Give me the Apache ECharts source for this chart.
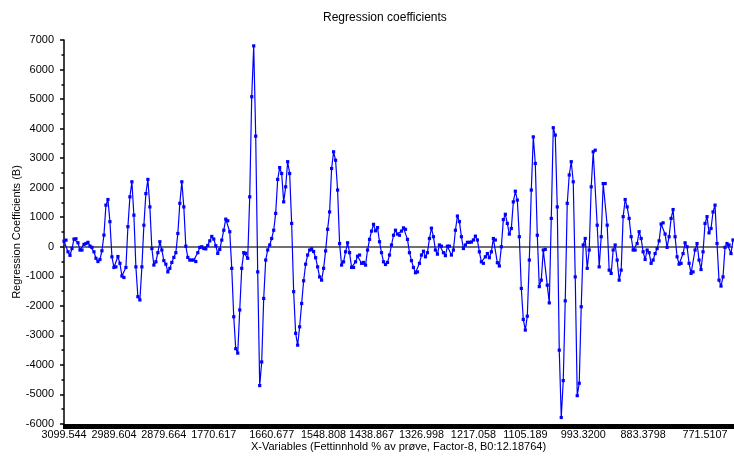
<!DOCTYPE html>
<html>
<head>
<meta charset="utf-8">
<title>Regression coefficients</title>
<script src="https://cdn.jsdelivr.net/npm/echarts@6/dist/echarts.min.js"></script>
<style>
  html, body { margin: 0; padding: 0; background: #ffffff; }
  #chart { width: 734px; height: 457px; }
</style>
</head>
<body>
<div id="chart"></div>
<script>
// Wavenumber labels shown along the x axis and the variable index each one sits on
const tickLabels = ['3099.544', '2989.604', '2879.664', '1770.617', '1660.677', '1548.808',
  '1438.867', '1326.998', '1217.058', '1105.189', '993.3200', '883.3798', '771.5107'];
const tickIndex = [0, 25, 50, 75, 104, 130, 154, 179, 205, 231, 260, 290, 321];

// Regression coefficients (B) per X-variable
const coefficients = [
  190, 225, -170, -290, -60, 260, 270, 135, -110, -110,
  80, 110, 150, 25, -20, -170, -390, -500, -430, -135,
  395, 1410, 1600, 850, -340, -700, -680, -330, -560, -990,
  -1040, -700, 680, 1690, 2200, 1070, -680, -1690, -1800, -680,
  730, 1800, 2280, 1350, -60, -620, -510, -200, 170, -110,
  -470, -590, -850, -730, -530, -360, -200, 450, 1470, 2200,
  1350, 20, -360, -450, -450, -450, -500, -200, -20, 0,
  -60, -70, 45, 200, 350, 260, 35, -225, -90, 225,
  560, 935, 880, 510, -730, -2370, -3450, -3600, -2140, -730,
  -200, -220, -390, 1690, 5080, 6800, 3745, -850, -4700, -3900,
  -1750, -450, -110, 60, 280, 560, 1130, 2280, 2680, 2480,
  1520, 2030, 2880, 2480, 790, -1520, -2930, -3330, -2710, -1920,
  -1150, -590, -280, -110, -70, -160, -370, -680, -1020, -1130,
  -730, -140, 590, 1180, 2650, 3215, 2930, 1920, 110, -620,
  -510, -170, 135, -200, -700, -700, -510, -320, -280, -560,
  -530, -620, -110, 250, 530, 760, 540, 650, 170, -200,
  -510, -600, -530, -280, 60, 390, 560, 430, 390, 530,
  640, 590, 250, -200, -470, -700, -880, -850, -560, -280,
  -150, -340, -200, 280, 630, 340, -110, -250, 60, 20,
  -200, -300, 20, 20, -280, -110, 560, 1040, 850, 340,
  -60, 60, 150, 150, 160, 230, 360, 230, -170, -510,
  -560, -340, -230, -370, -170, 280, 230, -540, -650, 0,
  920, 1100, 790, 430, 620, 1520, 1880, 1580, 340, -1410,
  -2460, -2820, -2350, -450, 1920, 3720, 2820, 390, -1350, -1130,
  -110, -90, -1300, -1900, 960, 4030, 3780, 1350, -3500, -5780,
  -4530, -1830, 1470, 2430, 2880, 2200, -1020, -5040, -4620, -2030,
  60, 280, -730, -110, 2030, 3215, 3270, 730, -680, 340,
  2140, 2140, 730, -790, -900, -110, 60, -450, -1130, -790,
  1020, 1600, 1350, 960, 340, -110, -110, 110, 510, 280,
  -170, -430, -110, -200, -560, -450, -230, -60, 200, 770,
  810, 430, -20, 340, 960, 1260, 340, -340, -590, -560,
  -230, 135, 0, -560, -900, -850, -110, 110, -450, -770,
  -170, 790, 1020, 470, 620, 1180, 1410, 110, -1130, -1330,
  -1020, -20, 110, 60, -230, 230
];

const variableIndex = coefficients.map(function (_, i) { return i; });

const FONT = '"Liberation Sans", Arial, sans-serif';

const chart = echarts.init(document.getElementById('chart'), null, { renderer: 'canvas' });

chart.setOption({
  animation: false,
  backgroundColor: '#ffffff',
  title: {
    text: 'Regression coefficients',
    left: 318,
    top: 7,
    textStyle: { fontFamily: FONT, fontSize: 12, fontWeight: 'normal', color: '#000000' }
  },
  grid: { left: 64, right: 1, top: 40, bottom: 33, containLabel: false, outerBoundsMode: 'none' },
  xAxis: {
    type: 'category',
    data: variableIndex,
    boundaryGap: false,
    name: 'X-Variables (Fettinnhold % av prøve, Factor-8, B0:12.18764)',
    nameLocation: 'middle',
    nameGap: 17,
    nameMoveOverlap: false,
    nameTextStyle: { fontFamily: FONT, fontSize: 11, color: '#000000' },
    axisLine: { onZero: false, lineStyle: { color: '#000000', width: 1 } },
    axisTick: {
      show: true,
      interval: 0,
      length: 5,
      lineStyle: { color: '#000000', width: 2 }
    },
    axisLabel: {
      interval: function (index) { return tickIndex.indexOf(index) !== -1; },
      formatter: function (value, index) {
        const k = tickIndex.indexOf(index);
        return k === -1 ? '' : tickLabels[k];
      },
      margin: 6,
      fontFamily: FONT,
      fontSize: 10.8,
      color: '#000000',
      showMinLabel: true,
      showMaxLabel: true,
      hideOverlap: false
    },
    splitLine: { show: false }
  },
  yAxis: {
    type: 'value',
    min: -6000,
    max: 7000,
    interval: 1000,
    name: 'Regression Coefficients (B)',
    nameLocation: 'middle',
    nameGap: 42,
    nameMoveOverlap: false,
    nameTextStyle: { fontFamily: FONT, fontSize: 11, color: '#000000' },
    axisLine: { show: true, lineStyle: { color: '#000000', width: 1.5 } },
    axisTick: { show: true, length: 4, lineStyle: { color: '#000000', width: 1.5 } },
    minorTick: { show: true, splitNumber: 2, length: 2.5, lineStyle: { color: '#000000', width: 1.5 } },
    axisLabel: {
      margin: 10,
      fontFamily: FONT,
      fontSize: 11,
      color: '#000000',
      formatter: function (v) { return String(v); }
    },
    splitLine: { show: false }
  },
  series: [{
    type: 'line',
    data: coefficients,
    symbol: 'rect',
    symbolSize: 3.2,
    showAllSymbol: true,
    lineStyle: { color: '#0000ff', width: 1.2 },
    itemStyle: { color: '#0000ff' },
    markLine: {
      silent: true,
      symbol: 'none',
      label: { show: false },
      lineStyle: { color: '#404040', width: 1.5, type: 'solid' },
      data: [{ yAxis: 0 }],
      z: 1
    }
  }]
});
</script>
</body>
</html>
